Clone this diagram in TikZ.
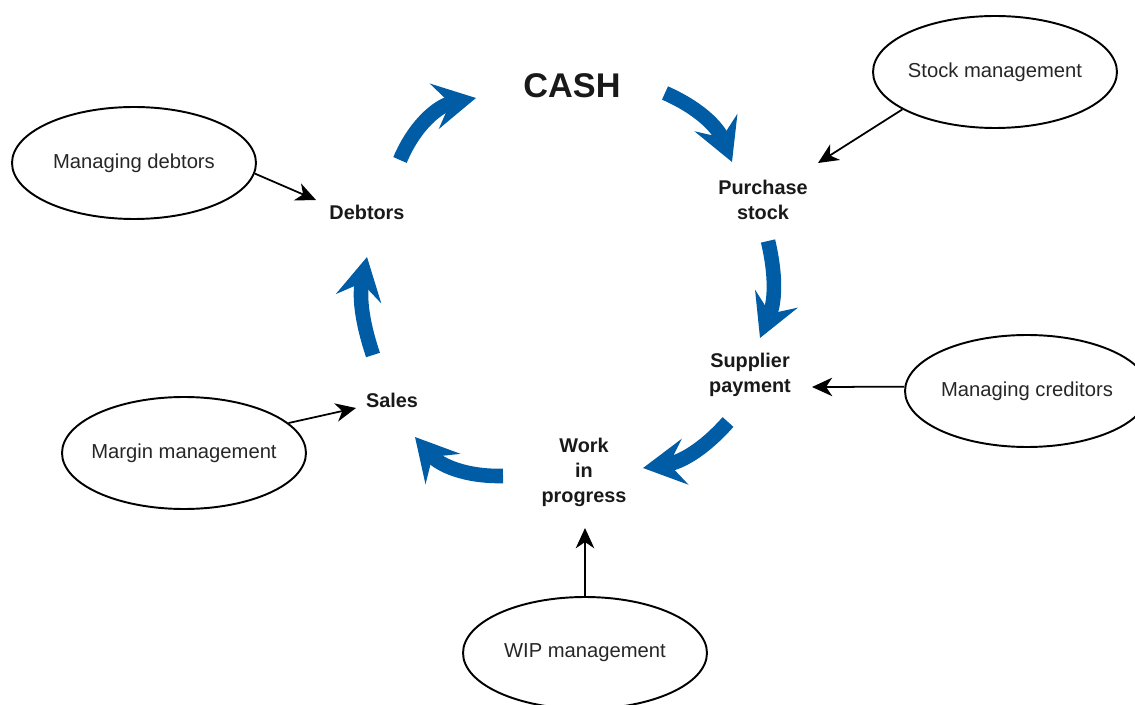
\documentclass[tikz,border=0pt]{standalone}
\usepackage{fontspec}
\setmainfont{Liberation Sans}
\setsansfont{Liberation Sans}
\usepackage{xcolor}
\usepackage{tikz}
\usetikzlibrary{arrows.meta, shapes.geometric, positioning}
\definecolor{cycleblue}{HTML}{005DA5}

\begin{document}
\begin{tikzpicture}[
  x=0.02cm, y=-0.02cm,
  stage/.style={font=\bfseries\fontsize{11.3}{14.2}\selectfont,text=black!90,align=center},
  mgmt/.style={ellipse,draw,line width=1.1pt,minimum width=4.88cm,minimum height=2.24cm,
    inner xsep=-8pt,inner ysep=0pt,font=\fontsize{11.5}{14}\selectfont,text=black!85},
  link/.style={draw,line width=1pt,-{Stealth[length=11.5pt,width=10.5pt,inset=3.5pt]}},
  flow/.style={draw,cycleblue,line width=8.3pt,-{Stealth[length=24pt,width=26pt,inset=9pt]}},
  font=\sffamily
]
\useasboundingbox (0,0) rectangle (1135,705);

% Draw stages of the cycle
\node[stage,font=\bfseries\fontsize{19.5}{22}\selectfont] (cash) at (572,86) {CASH};
\node[stage] (purchase) at (763,200) {Purchase\\stock};
\node[stage] (supplier) at (750,375) {Supplier\\payment};
\node[stage] (wip) at (584,472) {Work\\in\\progress};
\node[stage] (sales) at (392,400) {Sales};
\node[stage] (debtors) at (367,212) {Debtors};

% Draw management ellipses
\node[mgmt] (stockm) at (995,72) {Stock management};
\node[mgmt] (debtm) at (134,163) {Managing debtors};
\node[mgmt] (marginm) at (184,453) {Margin management};
\node[mgmt] (creditm) at (1027,391) {Managing creditors};
\node[mgmt] (wipm) at (585,653) {WIP management};

% Ends of the blue cycle arrows
\coordinate (t1) at (400,160); \coordinate (h1) at (476,98);
\coordinate (t2) at (665,93);  \coordinate (h2) at (732,162);
\coordinate (t3) at (768,241); \coordinate (h3) at (760,338);
\coordinate (t4) at (728,422); \coordinate (h4) at (643,468);
\coordinate (t5) at (503,476); \coordinate (h5) at (415,437);
\coordinate (t6) at (373,355); \coordinate (h6) at (367,257);

\foreach \i/\b in {1/28,2/22,3/18,4/20,5/25,6/15}
  \draw[flow] (t\i) to[bend left=\b] (h\i);

% Arrows from management to stages
\coordinate (stocktip) at (818,163);
\coordinate (debttip) at (316,200);
\coordinate (salestip) at (356,408);
\coordinate (supptip) at (812,387);
\coordinate (wiptip) at (585,528);

\draw[link] (stockm.202) -- (stocktip);
\draw[link] (debtm.-5) -- (debttip);
\draw[link] (marginm.16) -- (salestip);
\draw[link] (creditm.178) -- (supptip);
\draw[link] (wipm.north) -- (wiptip);

\end{tikzpicture}
\end{document}
